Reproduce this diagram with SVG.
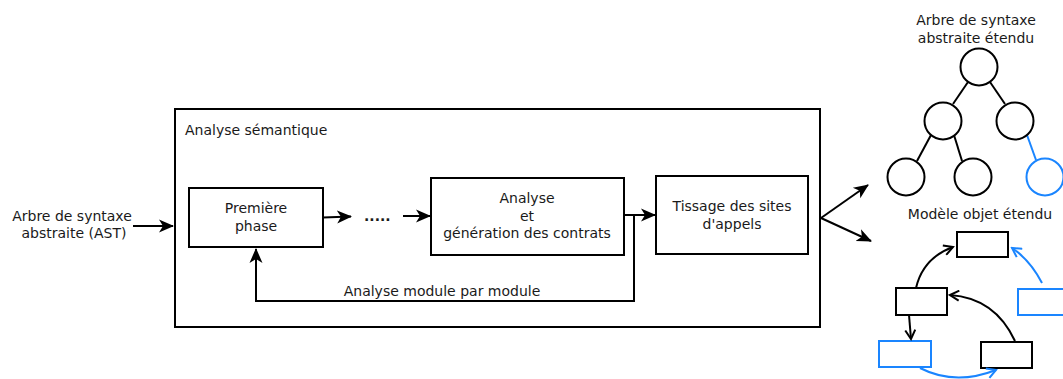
<svg xmlns="http://www.w3.org/2000/svg" width="1063" height="379" viewBox="0 0 1063 379">
  <style>
    .t { font-family: "DejaVu Sans", "Liberation Sans", sans-serif; font-size: 14px; fill: #1a1a1a; }
    .c { text-anchor: middle; }
    .box { fill: #ffffff; stroke: #000000; stroke-width: 2; }
    .boxb { fill: #ffffff; stroke: #1a85ff; stroke-width: 2; }
    .ln { fill: none; stroke: #000000; stroke-width: 2; }
    .lnb { fill: none; stroke: #1a85ff; stroke-width: 2; }
  </style>
  <defs>
    <marker id="ah" markerUnits="userSpaceOnUse" markerWidth="16" markerHeight="16" viewBox="0 0 16 16" refX="14" refY="8" orient="auto">
      <path d="M0,1.5 L15,8 L0,14.5 L4,8 z" fill="#000000"/>
    </marker>
    <marker id="ahs" markerUnits="userSpaceOnUse" markerWidth="12" markerHeight="12" viewBox="0 0 12 12" refX="10" refY="6" orient="auto">
      <path d="M1,1 L10,6 L1,11" fill="none" stroke="#000000" stroke-width="2"/>
    </marker>
    <marker id="ahb" markerUnits="userSpaceOnUse" markerWidth="12" markerHeight="12" viewBox="0 0 12 12" refX="10" refY="6" orient="auto">
      <path d="M1,1 L10,6 L1,11" fill="none" stroke="#1a85ff" stroke-width="2"/>
    </marker>
  </defs>

  <!-- input label -->
  <g id="input">
    <text class="t c" x="72" y="221">Arbre de syntaxe</text>
    <text class="t c" x="74" y="238">abstraite (AST)</text>
  </g>

  <!-- semantic analysis container -->
  <g id="semantique">
    <rect class="box" x="175" y="109" width="645" height="218"/>
    <text class="t" x="185" y="135">Analyse sémantique</text>
  </g>

  <g id="premiere">
    <rect class="box" x="189" y="188" width="134" height="59"/>
    <text class="t c" x="256" y="213">Première</text>
    <text class="t c" x="256" y="231">phase</text>
  </g>

  <g id="ellipsis">
    <text class="t" x="364" y="221" style="font-weight:bold">.....</text>
  </g>

  <g id="analyse">
    <rect class="box" x="431" y="178" width="193" height="77"/>
    <text class="t c" x="527" y="203">Analyse</text>
    <text class="t c" x="527" y="221">et</text>
    <text class="t c" x="527" y="238">génération des contrats</text>
  </g>

  <g id="tissage">
    <rect class="box" x="656" y="176" width="152" height="78"/>
    <text class="t c" x="732" y="211">Tissage des sites</text>
    <text class="t c" x="732" y="229">d'appels</text>
  </g>

  <g id="boucle-label">
    <text class="t c" x="442" y="296">Analyse module par module</text>
  </g>

  <!-- extended AST -->
  <g id="ast-etendu">
    <text class="t c" x="976" y="25">Arbre de syntaxe</text>
    <text class="t c" x="976" y="43">abstraite étendu</text>
    <line class="ln" x1="968" y1="82" x2="953" y2="104"/>
    <line class="ln" x1="990" y1="82" x2="1005" y2="104"/>
    <line class="ln" x1="931" y1="135" x2="917" y2="161"/>
    <line class="ln" x1="954" y1="135" x2="962" y2="161"/>
    <line class="lnb" x1="1027" y1="135" x2="1036" y2="160"/>
    <circle class="box" cx="979" cy="67" r="18.5"/>
    <circle class="box" cx="943" cy="121" r="18.5"/>
    <circle class="box" cx="1015" cy="121" r="18.5"/>
    <circle class="box" cx="906" cy="177" r="18.5"/>
    <circle class="box" cx="973" cy="177" r="18.5"/>
    <circle class="boxb" cx="1045" cy="177" r="18.5"/>
  </g>

  <!-- extended object model -->
  <g id="modele-objet">
    <text class="t c" x="980" y="219">Modèle objet étendu</text>
    <rect class="box" x="957" y="232" width="51" height="25"/>
    <rect class="box" x="896" y="288" width="51" height="27"/>
    <rect class="boxb" x="1018" y="289" width="52" height="26"/>
    <rect class="boxb" x="879" y="341" width="52" height="26"/>
    <rect class="box" x="981" y="342" width="51" height="26"/>
    <path class="ln" d="M916,288 Q923,258 953,247" marker-end="url(#ahs)"/>
    <path class="ln" d="M909,315 L911,339" marker-end="url(#ahs)"/>
    <path class="ln" d="M1015,341 Q995,298 950,295" marker-end="url(#ahs)"/>
    <path class="lnb" d="M1042,283 Q1030,260 1012,248" marker-end="url(#ahb)"/>
    <path class="lnb" d="M920,368 Q955,386 996,370" marker-end="url(#ahb)"/>
  </g>

  <!-- connectors -->
  <g id="connectors">
    <line class="ln" x1="133" y1="226" x2="173" y2="226" marker-end="url(#ah)"/>
    <line class="ln" x1="323" y1="217.5" x2="351" y2="216.5" marker-end="url(#ah)"/>
    <line class="ln" x1="403" y1="216" x2="430" y2="216" marker-end="url(#ah)"/>
    <line class="ln" x1="624" y1="215" x2="655" y2="215" marker-end="url(#ah)"/>
    <path class="ln" d="M634,215 V301 H256 V249" marker-end="url(#ah)"/>
    <line class="ln" x1="821" y1="218" x2="868" y2="185" marker-end="url(#ah)"/>
    <line class="ln" x1="821" y1="218" x2="871" y2="241" marker-end="url(#ah)"/>
  </g>
</svg>
